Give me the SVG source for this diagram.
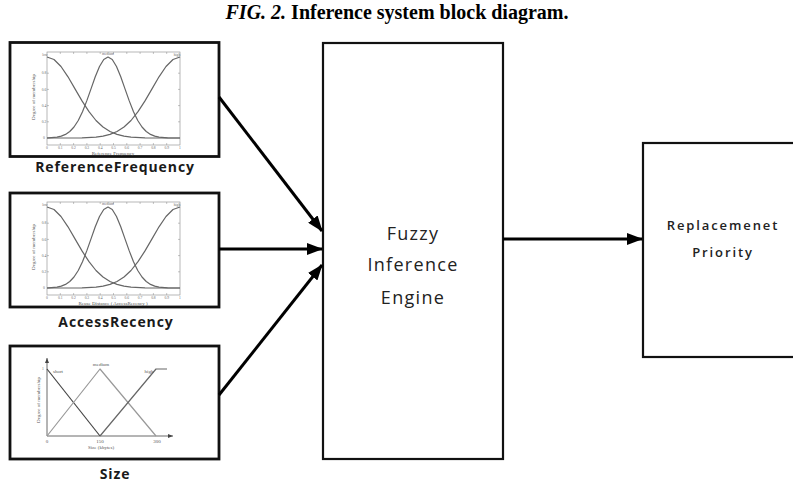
<svg xmlns="http://www.w3.org/2000/svg" width="793" height="484" viewBox="0 0 793 484">
<style>
.box{fill:#fff;stroke:#111;}
.inbox{stroke-width:2.8;}
.big{stroke-width:2.2;}
.lbl{font-family:"Open Sans","Liberation Sans",sans-serif;font-weight:700;font-size:14px;letter-spacing:0.9px;fill:#1a1a1a;text-anchor:middle;}
.eng{font-family:"Open Sans","Liberation Sans",sans-serif;font-size:18px;letter-spacing:1.3px;fill:#222;text-anchor:middle;}
.rep{font-family:"Open Sans","Liberation Sans",sans-serif;font-weight:600;font-size:13px;letter-spacing:1.9px;fill:#222;text-anchor:middle;}
.title{font-family:"Liberation Serif","Times New Roman",serif;font-weight:700;font-size:20px;fill:#000;text-anchor:middle;}
.frame{fill:none;stroke:#888;stroke-width:0.6;}
.tick{fill:none;stroke:#888;stroke-width:0.5;}
.crv{fill:none;stroke:#666;stroke-width:1.2;stroke-linejoin:round;}
.tiny{font-family:"Liberation Serif",serif;font-size:3.6px;fill:#666;text-anchor:middle;}
.small{font-family:"Liberation Serif",serif;font-size:5px;fill:#555;text-anchor:middle;}
.conn{fill:none;stroke:#000;stroke-width:3;}
</style>
<defs>
<marker id="ah" markerUnits="userSpaceOnUse" markerWidth="16" markerHeight="12" refX="15" refY="6" orient="auto">
<path d="M0,0 L16,6 L0,12 Z" fill="#000"/>
</marker>
<marker id="sa" markerUnits="userSpaceOnUse" markerWidth="5" markerHeight="4" refX="5" refY="2" orient="auto">
<path d="M0,0 L5,2 L0,4 Z" fill="#444"/>
</marker>
<g id="gplot">
<rect class="frame" x="0" y="-5" width="133" height="93"/>
<path class="tick" d="M13.3,-5v2M26.6,-5v2M39.9,-5v2M53.2,-5v2M66.5,-5v2M79.8,-5v2M93.1,-5v2M106.4,-5v2M119.7,-5v2M13.3,88v-2M26.6,88v-2M39.9,88v-2M53.2,88v-2M66.5,88v-2M79.8,88v-2M93.1,88v-2M106.4,88v-2M119.7,88v-2M0,16.2h2M0,32.4h2M0,48.6h2M0,64.8h2M133,16.2h-2M133,32.4h-2M133,48.6h-2M133,64.8h-2"/>
<polyline class="crv" points="0,0 7,2.5 14,9.5 21,19.8 28,31.9 35,43.9 42,54.7 49,63.5 56,70 63,74.5 70,77.4 77,79.1 84,80.1 98,80.8 133,81"/>
<polyline class="crv" points="133,0 126,2.5 119,9.5 112,19.8 105,31.9 98,43.9 91,54.7 84,63.5 77,70 70,74.5 63,77.4 56,79.1 49,80.1 35,80.8 0,81"/>
<polyline class="crv" points="0,81 1.5,80.8 10,80.1 14.25,79.1 18.5,77.4 22.75,74.5 27,70 31.25,63.5 35.5,54.7 39.75,43.9 44,31.9 48.25,19.8 52.5,9.5 56.75,2.5 61,0 65.25,2.5 69.5,9.5 73.75,19.8 78,31.9 82.25,43.9 86.5,54.7 90.75,63.5 95,70 99.25,74.5 103.5,77.4 107.75,79.1 112,80.1 120.5,80.8 133,81"/>
<text class="tiny" x="0" y="92">0</text><text class="tiny" x="13.3" y="92">0.1</text><text class="tiny" x="26.6" y="92">0.2</text><text class="tiny" x="39.9" y="92">0.3</text><text class="tiny" x="53.2" y="92">0.4</text><text class="tiny" x="66.5" y="92">0.5</text><text class="tiny" x="79.8" y="92">0.6</text><text class="tiny" x="93.1" y="92">0.7</text><text class="tiny" x="106.4" y="92">0.8</text><text class="tiny" x="119.7" y="92">0.9</text><text class="tiny" x="133" y="92">1</text>
<text class="tiny" x="-3" y="82">0</text><text class="tiny" x="-3" y="66">0.2</text><text class="tiny" x="-3" y="50">0.4</text><text class="tiny" x="-3" y="34">0.6</text><text class="tiny" x="-3" y="17">0.8</text><text class="tiny" x="-2" y="-1">low</text><text class="tiny" x="61" y="-2">medium</text><text class="tiny" x="130" y="-1">high</text>
<text class="small" transform="translate(-12,40) rotate(-90)">Degree of membership</text>
</g>
</defs>
<text class="title" x="397" y="19"><tspan font-style="italic">FIG. 2.</tspan> Inference system block diagram.</text>

<g id="node-reference-frequency">
<rect class="box inbox" x="10" y="42.5" width="209" height="114"/>
<use href="#gplot" transform="translate(47,57)"/>
<text class="small" x="113" y="155">Reference Frequency</text>
<text class="lbl" x="115" y="172">ReferenceFrequency</text>
</g>

<g id="node-access-recency">
<rect class="box inbox" x="10" y="193" width="209" height="114"/>
<use href="#gplot" transform="translate(47,207)"/>
<text class="small" x="113" y="305">Reuse Distance ( AccessRecency )</text>
<text class="lbl" x="116" y="327">AccessRecency</text>
</g>

<g id="node-size">
<rect class="box inbox" x="10" y="346" width="209" height="113"/>
<path d="M47,436 V358" fill="none" stroke="#444" stroke-width="0.8" marker-end="url(#sa)"/>
<path d="M47,436 H173" fill="none" stroke="#444" stroke-width="0.8" marker-end="url(#sa)"/>
<polyline class="crv" points="47,369 100,436" style="stroke:#444"/>
<polyline class="crv" points="47,436 100,369 156,436" style="stroke:#999"/>
<polyline class="crv" points="100,436 156,369 167,369" style="stroke:#666"/>
<text class="tiny" x="43" y="370">1</text>
<text class="small" x="58" y="373">short</text>
<text class="small" x="101" y="366">medium</text>
<text class="small" x="149" y="373">high</text>
<text class="small" x="47" y="443">0</text>
<text class="small" x="100" y="443">150</text>
<text class="small" x="157" y="443">300</text>
<text class="small" x="101" y="449">Size (kbytes)</text>
<text class="small" transform="translate(40,400) rotate(-90)">Degree of membership</text>
<text class="lbl" x="115" y="479">Size</text>
</g>

<g id="node-fuzzy-engine">
<rect class="box big" x="323" y="43" width="180" height="416"/>
<text class="eng" x="413" y="240">Fuzzy</text>
<text class="eng" x="413" y="271">Inference</text>
<text class="eng" x="413" y="304">Engine</text>
</g>

<g id="node-replacement-priority">
<rect class="box big" x="643" y="143" width="160" height="214"/>
<text class="rep" x="723" y="230">Replacemenet</text>
<text class="rep" x="723" y="257">Priority</text>
</g>

<g id="connectors">
<line class="conn" x1="219" y1="97" x2="322" y2="231" marker-end="url(#ah)"/>
<line class="conn" x1="219" y1="249" x2="322" y2="249" marker-end="url(#ah)"/>
<line class="conn" x1="219" y1="395" x2="322" y2="265" marker-end="url(#ah)"/>
<line class="conn" x1="503" y1="239" x2="642" y2="239" marker-end="url(#ah)"/>
</g>
</svg>
